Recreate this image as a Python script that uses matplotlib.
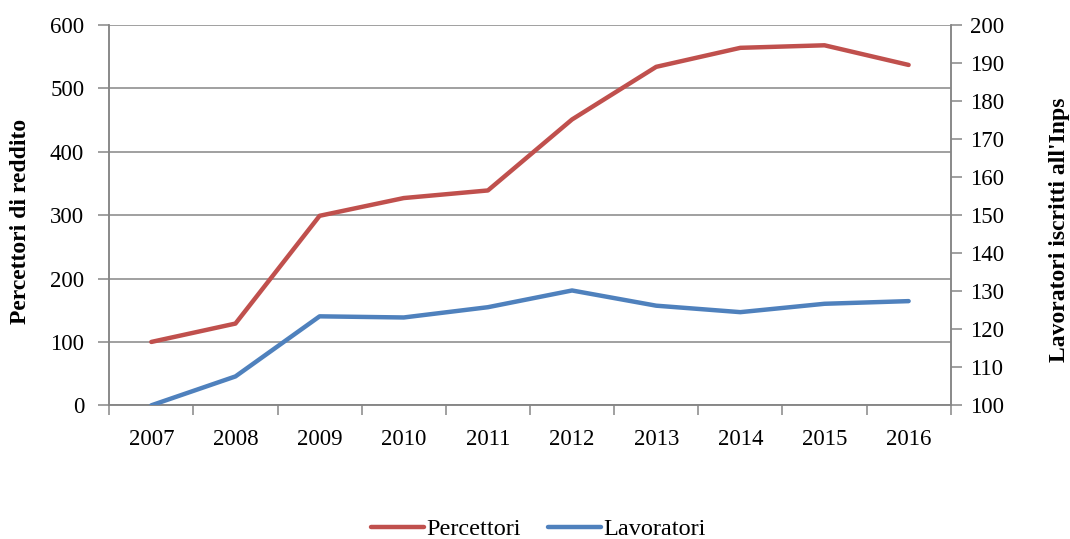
import matplotlib
matplotlib.use("Agg")
import matplotlib.pyplot as plt
import numpy as np

plt.rcParams["font.family"] = ["Liberation Serif", "DejaVu Serif"]

anni = ["2007", "2008", "2009", "2010", "2011", "2012", "2013", "2014", "2015", "2016"]
percettori = [100, 129, 299, 327, 339, 451, 534, 564, 568, 537]
lavoratori = [100.0, 107.6, 123.4, 123.1, 125.8, 130.2, 126.2, 124.5, 126.7, 127.4]

rosso = "#C0504D"
blu = "#4F81BD"
grigio = "#868686"

fig = plt.figure(figsize=(10.7, 5.39), dpi=100)
ax = fig.add_axes([0.1021, 0.2480, 0.7864, 0.7056])
ax2 = ax.twinx()

x = np.arange(1, len(anni) + 1)
l1, = ax.plot(x, percettori, color=rosso, lw=3.2, solid_capstyle="round", label="Percettori", zorder=3)
l2, = ax2.plot(x, lavoratori, color=blu, lw=3.2, solid_capstyle="round", label="Lavoratori", zorder=3)

# asse sinistro
ax.set_xlim(0.5, len(anni) + 0.5)
ax.set_ylim(0, 600)
ax.set_yticks(np.arange(0, 601, 100))
ax.yaxis.grid(True, color=grigio, lw=1.1)
ax.set_axisbelow(True)

# categorie con tacche tra un anno e l'altro
ax.set_xticks(np.arange(0.5, len(anni) + 1, 1))
ax.set_xticklabels([])
ax.set_xticks(x, minor=True)
ax.set_xticklabels(anni, minor=True)
ax.tick_params(axis="x", which="major", length=7, width=1.1, color=grigio, direction="out")
ax.tick_params(axis="x", which="minor", length=0, pad=17, labelsize=16.5)
ax.tick_params(axis="y", length=8, width=1.1, color=grigio, labelsize=16.5, pad=10)

# asse destro
ax2.set_ylim(100, 200)
ax2.set_yticks(np.arange(100, 201, 10))
ax2.tick_params(axis="y", length=8, width=1.1, color=grigio, labelsize=16.5, pad=6)

for a in (ax, ax2):
    a.spines["top"].set_visible(False)
    for s in ("left", "right", "bottom"):
        a.spines[s].set_color(grigio)
        a.spines[s].set_linewidth(1.1)

fig.text(0.019, 1 - 221 / 539, "Percettori di reddito", rotation=90,
         ha="center", va="center", fontsize=17, fontweight="bold")
fig.text(0.990, 1 - 230 / 539, "Lavoratori iscritti all'Inps", rotation=90,
         ha="center", va="center", fontsize=17, fontweight="bold")

fig.legend(handles=[l1, l2], loc="lower center", bbox_to_anchor=(0.503, -0.043),
           ncol=2, frameon=False, fontsize=17.5, handlelength=2.2,
           handletextpad=0.1, columnspacing=1.1)

fig.savefig("out.png", dpi=100)
